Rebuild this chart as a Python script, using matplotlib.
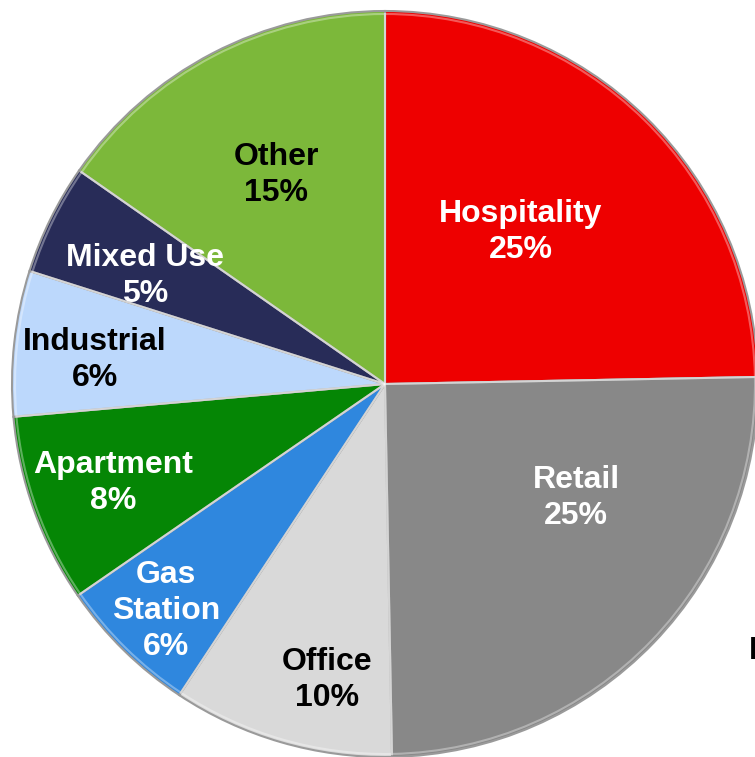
import matplotlib.pyplot as plt

# slice data, clockwise from 12 o'clock
categories = ['Hospitality', 'Retail', 'Office', 'Gas\nStation', 'Apartment',
              'Industrial', 'Mixed Use', 'Other']
shares = [24.7, 25.0, 9.6, 6.1, 8.2, 6.3, 4.8, 15.3]
pct_labels = ['25%', '25%', '10%', '6%', '8%', '6%', '5%', '15%']

colors = ['#ee0000', '#888888', '#d9d9d9', '#2f87de', '#058605',
          '#bcd8fc', '#282c58', '#7cb83a']
text_colors = ['white', 'white', 'black', 'white', 'white',
               'black', 'white', 'black']
# label centres in pixels (x from left, y from top)
label_pos = [(521, 232), (576, 498), (327, 680), (166, 611), (113, 483),
             (95, 360), (145, 276), (276, 175)]

W, H = 755, 757
fig = plt.figure(figsize=(W / 100, H / 100), dpi=100)
ax = fig.add_axes([0, 0, 1, 1])

cx, cy, r = 385, H - 384, 373
wedges, _ = ax.pie(shares, colors=colors, startangle=90, counterclock=False,
                   center=(cx, cy), radius=r, frame=True,
                   wedgeprops=dict(edgecolor='#9a9a9a', linewidth=1.5))
# thin highlight inside each slice to hint at the bevel
ax.pie(shares, colors=['none'] * len(shares), startangle=90, counterclock=False,
       center=(cx, cy), radius=r - 3, frame=True,
       wedgeprops=dict(edgecolor=(1, 1, 1, 0.35), linewidth=1.5))
ax.set_xlim(0, W)
ax.set_ylim(0, H)
ax.set_aspect('equal')
ax.axis('off')

for name, pct, col, (x, y) in zip(categories, pct_labels, text_colors, label_pos):
    ax.text(x, H - y, name + '\n' + pct, ha='center', va='center',
            color=col, fontsize=23, fontweight='bold',
            family='Liberation Sans', linespacing=1.24)

# label of a neighbouring element, cut off by the frame as in the original
fig.text(749 / W, 1 - 651 / H, 'F', ha='left', va='center', fontsize=23,
         fontweight='bold', family='Liberation Sans', color='black')

fig.savefig('out.png', dpi=100)
